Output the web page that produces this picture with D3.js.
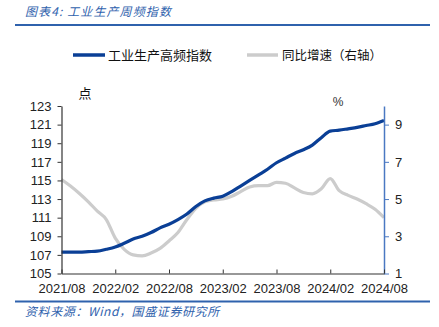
<!DOCTYPE html>
<html><head><meta charset="utf-8">
<script src="https://cdn.jsdelivr.net/npm/d3@7"></script>
<style>body{margin:0;background:#fff;}svg{display:block;}</style>
</head><body>
<script>
// ---- data (month index 0 = 2021/08) ----
const months = d3.range(0, 37);
const indexValues = [107.3,107.3,107.3,107.35,107.4,107.6,107.85,108.25,108.7,109.0,109.4,109.9,110.3,110.8,111.4,112.2,112.8,113.1,113.3,113.8,114.4,115.0,115.6,116.2,116.9,117.4,117.9,118.3,118.8,119.6,120.3,120.4,120.55,120.7,120.9,121.1,121.45];
const yoyValues = [6.05,5.7,5.3,4.85,4.35,3.9,2.9,2.3,2.0,1.95,2.1,2.35,2.75,3.2,3.9,4.5,4.85,4.95,5.0,5.15,5.4,5.65,5.72,5.72,5.9,5.85,5.6,5.35,5.28,5.55,6.1,5.45,5.2,5.0,4.75,4.45,4.0];
const xTickMonths = [0,6,12,18,24,30,36];
const xTickLabels = ["2021/08","2022/02","2022/08","2023/02","2023/08","2024/02","2024/08"];
const leftTicks = [105,107,109,111,113,115,117,119,121,123];
const rightTicks = [1,3,5,7,9];
const seriesNames = ["工业生产高频指数","同比增速（右轴）"];
const titleText = "图表4:  工业生产周频指数";
const sourceText = "资料来源：Wind，国盛证券研究所";

const W = 439, H = 327;
const pLeft = 61.5, pRight = 384, pTop = 106, pBottom = 273.5;
const blue = "#0a3f96", gray = "#cccccc", accent = "#2f62ad";
const latin = "'Liberation Sans', Arial, sans-serif";
const cjk = "'Noto Sans CJK SC', 'Liberation Sans', sans-serif";

const svg = d3.select("body").append("svg").attr("width", W).attr("height", H);

const x = d3.scaleLinear().domain([0, 36]).range([pLeft, pRight]);
const yL = d3.scaleLinear().domain([105, 123]).range([pBottom, pTop]);
const yR = d3.scaleLinear().domain([1, 10]).range([pBottom, pTop]);

// title & rules
svg.append("text").attr("x", 25).attr("y", 16).attr("font-family", cjk).attr("font-size", 12)
  .attr("font-style", "italic").attr("letter-spacing", 1.1).attr("fill", accent).text(titleText);
svg.append("line").attr("x1", 15).attr("x2", 430).attr("y1", 25).attr("y2", 25)
  .attr("stroke", accent).attr("stroke-width", 2);
svg.append("line").attr("x1", 15).attr("x2", 430).attr("y1", 301.5).attr("y2", 301.5)
  .attr("stroke", accent).attr("stroke-width", 2);
svg.append("text").attr("x", 25).attr("y", 316).attr("font-family", cjk).attr("font-size", 12)
  .attr("font-style", "italic").attr("letter-spacing", 0.6).attr("fill", accent).text(sourceText);

// legend
const leg = [{c: blue, x1: 73, x2: 105, tx: 108, fs: 13}, {c: gray, x1: 247, x2: 278, tx: 282, fs: 12.5}];
leg.forEach((l, i) => {
  svg.append("line").attr("x1", l.x1).attr("x2", l.x2).attr("y1", 55).attr("y2", 55)
    .attr("stroke", l.c).attr("stroke-width", 3.5);
  svg.append("text").attr("x", l.tx).attr("y", 55).attr("dy", "0.36em").attr("font-family", cjk)
    .attr("font-size", l.fs).attr("fill", "#111").text(seriesNames[i]);
});

// unit labels
svg.append("text").attr("x", 85).attr("y", 93).attr("dy", "0.36em").attr("text-anchor", "middle")
  .attr("font-family", cjk).attr("font-size", 13).attr("fill", "#111").text("点");
svg.append("text").attr("x", 338).attr("y", 102).attr("dy", "0.36em").attr("text-anchor", "middle")
  .attr("font-family", latin).attr("font-size", 12).attr("fill", "#333").text("%");

// lines
const lineL = d3.line().x((d, i) => x(months[i])).y(d => yL(d)).curve(d3.curveMonotoneX);
const lineR = d3.line().x((d, i) => x(months[i])).y(d => yR(d)).curve(d3.curveMonotoneX);
svg.append("path").datum(yoyValues).attr("d", lineR).attr("fill", "none")
  .attr("stroke", gray).attr("stroke-width", 3.2).attr("stroke-linejoin", "round");
svg.append("path").datum(indexValues).attr("d", lineL).attr("fill", "none")
  .attr("stroke", blue).attr("stroke-width", 3.2).attr("stroke-linejoin", "round");

// axes
const axL = svg.append("g").attr("transform", `translate(${pLeft},0)`)
  .call(d3.axisLeft(yL).tickValues(leftTicks).tickSize(4).tickPadding(6).tickSizeOuter(0));
const axR = svg.append("g").attr("transform", `translate(${pRight},0)`)
  .call(d3.axisRight(yR).tickValues(rightTicks).tickSize(5).tickPadding(6).tickSizeOuter(0));
const axB = svg.append("g").attr("transform", `translate(0,${pBottom})`)
  .call(d3.axisBottom(x).tickValues(xTickMonths).tickFormat((d, i) => xTickLabels[i]).tickSize(-4).tickPadding(10).tickSizeOuter(0));

[axL, axR, axB].forEach(g => {
  g.selectAll("text").attr("font-family", latin).attr("font-size", 13).attr("fill", "#222");
});
axL.select(".domain").attr("stroke", "#333").attr("stroke-width", 1.2);
axL.selectAll(".tick line").attr("stroke", "#333");
axB.select(".domain").attr("stroke", "#333").attr("stroke-width", 1.2);
axB.selectAll(".tick line").attr("stroke", "#333");
axR.select(".domain").attr("stroke", "#4a78c2").attr("stroke-width", 1.5);
axR.selectAll(".tick line").attr("stroke", "#4a78c2");
</script>
</body></html>
